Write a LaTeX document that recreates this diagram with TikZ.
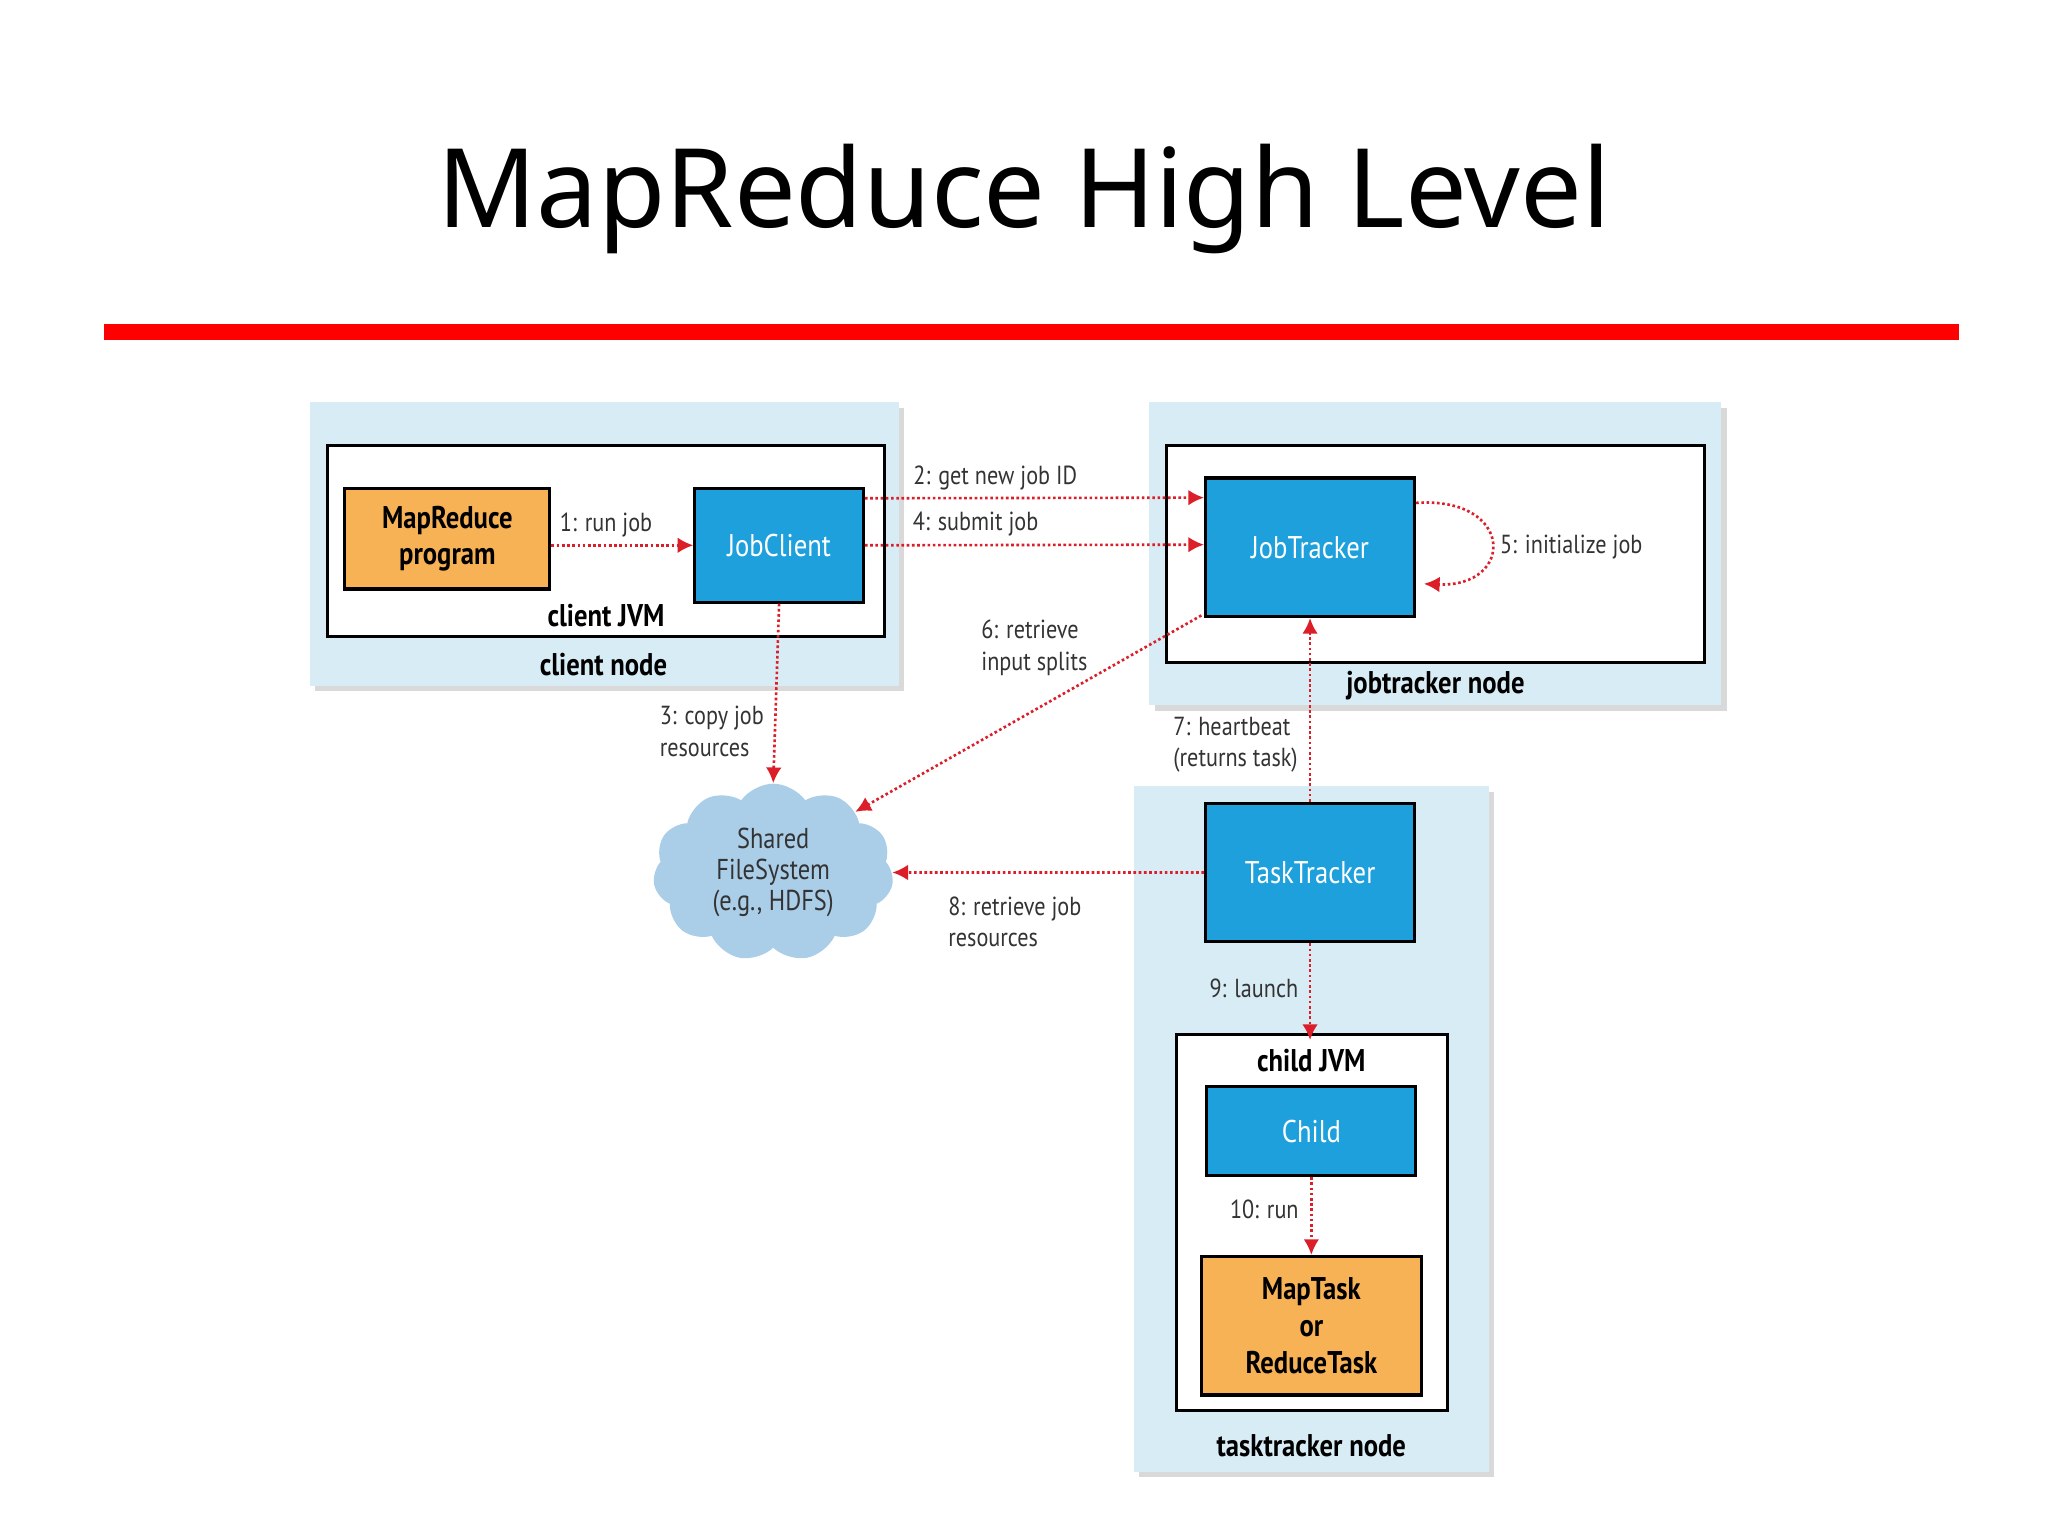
\documentclass[tikz,border=0pt]{standalone}
\usepackage{fontspec}
\setmainfont{PT Sans}[FakeStretch=0.85]
\newfontfamily\titlefont{Noto Sans}
\usetikzlibrary{shapes.symbols,arrows.meta}
\definecolor{bgblue}{RGB}{216,236,246}
\definecolor{boxblue}{RGB}{30,160,220}
\definecolor{boxorange}{RGB}{247,178,85}
\definecolor{cloudblue}{RGB}{170,205,232}
\definecolor{arrred}{RGB}{220,30,40}
\tikzset{
 bluebox/.style={draw=black,line width=1.2pt,fill=boxblue,text=white,font=\fontsize{12}{14}\selectfont,inner sep=0pt},
 orangebox/.style={draw=black,line width=1.2pt,fill=boxorange,font=\bfseries\fontsize{12}{14}\selectfont,align=center,inner sep=0pt},
 bgpanel/.style={fill=bgblue,draw=none},
 whitebox/.style={draw=black,line width=1.2pt,fill=white},
 arr/.style={arrred,densely dotted,line width=1pt,-{Latex[length=6pt,width=6pt]}},
 lbl/.style={font=\fontsize{10}{12}\selectfont,align=left,text=black!80},
 plbl/.style={font=\bfseries\fontsize{12}{14}\selectfont}
}
\begin{document}
\begin{tikzpicture}[x=0.5pt,y=-0.5pt]
\useasboundingbox[fill=white] (0,0) rectangle (1568,1176);
\node[font=\titlefont\fontsize{42}{48}\selectfont] (title) at (784,152) {MapReduce High Level};
\fill[red] (80,248) rectangle (1500,260);
% panels with shadow
\fill[black!15] (241,312) rectangle (692,529);
\fill[bgpanel] (237,308) rectangle (688,525);
\fill[black!15] (884,312) rectangle (1322,544);
\fill[bgpanel] (880,308) rectangle (1318,540);
\fill[black!15] (872,606) rectangle (1144,1131);
\fill[bgpanel] (868,602) rectangle (1140,1127);
\draw[whitebox] (251,341) rectangle (677,487);
\draw[whitebox] (893,341) rectangle (1305,507);
\draw[whitebox] (901,792) rectangle (1108,1080);
\node[plbl] (cjvm) at (464,471) {client JVM};
\node[plbl] (cnode) at (462,509) {client node};
\node[plbl] (jtnode) at (1099,525) {jobtracker node};
\node[plbl] (chjvm) at (1004,812) {child JVM};
\node[plbl] (ttnode) at (1004,1107) {tasktracker node};
% boxes
\node[orangebox,minimum width=78.5pt,minimum height=38.5pt] (prog) at (342.5,412.5) {MapReduce\\program};
\node[bluebox,minimum width=64.5pt,minimum height=43.5pt] (jc) at (596.5,417.5) {JobClient};
\node[bluebox,minimum width=80pt,minimum height=53pt] (jt) at (1003,419) {JobTracker};
\node[bluebox,minimum width=80pt,minimum height=53pt] (tt) at (1003,668) {TaskTracker};
\node[bluebox,minimum width=80pt,minimum height=34pt] (ch) at (1004,866) {Child};
\node[orangebox,minimum width=84pt,minimum height=53pt] (mt) at (1004,1015) {MapTask\\or\\ReduceTask};
\node[cloud,cloud puffs=11,cloud puff arc=110,aspect=1.4,fill=cloudblue,minimum width=92pt,minimum height=68pt,inner sep=0pt,align=center,font=\fontsize{11}{12}\selectfont,text=black!80] (fs) at (592,668) {Shared\\FileSystem\\(e.g., HDFS)};
% arrows
\draw[arr] (prog.east |- jc.west) -- (jc.west);
\node[lbl] (l1) at (464,402) {1: run job};
\draw[arr] ([yshift=18pt]jc.east) -- ([yshift=19pt]jt.west);
\node[lbl] (l2) at (762,366) {2: get new job ID};
\draw[arr] (jc.east) -- ([yshift=1pt]jt.west);
\node[lbl] (l4) at (747,401) {4: submit job};
\draw[arr] ([yshift=17pt]jt.east) .. controls (1160,380) and (1160,450) .. ([yshift=-14pt,xshift=3pt]jt.east);
\node[lbl] (l5) at (1203,419) {5: initialize job};
\draw[arr] (jc.south) -- (fs.north);
\node[lbl] (l3) at (545,560) {3: copy job\\resources};
\draw[arr] ([xshift=-1pt,yshift=1pt]jt.south west) -- (fs.north east);
\node[lbl] (l6) at (792,496) {6: retrieve\\input splits};
\draw[arr] (tt.north) -- (jt.south);
\node[lbl] (l7) at (946,570) {7: heartbeat\\(returns task)};
\draw[arr] (tt.west) -- (fs.east);
\node[lbl] (l8) at (777,706) {8: retrieve job\\resources};
\draw[arr] (tt.south) -- (chjvm.north -| tt.south);
\node[lbl] (l9) at (960,757) {9: launch};
\draw[arr] (ch.south) -- (mt.north);
\node[lbl] (l10) at (968,926) {10: run};
\end{tikzpicture}
\end{document}
